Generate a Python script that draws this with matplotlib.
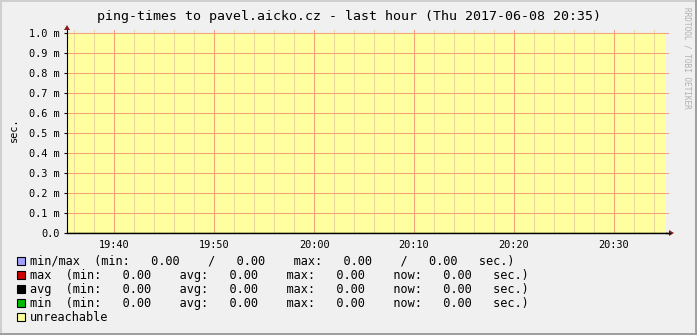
import matplotlib
matplotlib.use("Agg")
import matplotlib.pyplot as plt
from matplotlib.patches import Rectangle, Polygon
from matplotlib.lines import Line2D

# ---- data ----
title = "ping-times to pavel.aicko.cz - last hour (Thu 2017-06-08 20:35)"
# time axis in minutes after 19:00
t_start = 35.25
t_end = 95.25
times = [35.25, 45.0, 55.0, 65.0, 75.0, 85.0, 95.25]
unreachable = [1, 1, 1, 1, 1, 1, 1]
ping_min = [0, 0, 0, 0, 0, 0, 0]
ping_avg = [0, 0, 0, 0, 0, 0, 0]
ping_max = [0, 0, 0, 0, 0, 0, 0]
y_max = 1.0e-3
y_ticks = [0.0, 0.1e-3, 0.2e-3, 0.3e-3, 0.4e-3, 0.5e-3, 0.6e-3, 0.7e-3, 0.8e-3, 0.9e-3, 1.0e-3]
y_tick_labels = ["0.0", "0.1 m", "0.2 m", "0.3 m", "0.4 m", "0.5 m", "0.6 m", "0.7 m", "0.8 m", "0.9 m", "1.0 m"]
x_major = [40, 50, 60, 70, 80, 90]
x_major_labels = ["19:40", "19:50", "20:00", "20:10", "20:20", "20:30"]
x_minor = [36, 38, 42, 44, 46, 48, 52, 54, 56, 58, 62, 64, 66, 68, 72, 74, 76, 78, 82, 84, 86, 88, 92, 94]
legend_rows = [
    ("#A0A0FF", "min/max  (min:   0.00    /   0.00    max:   0.00    /   0.00   sec.)"),
    ("#CC0000", "max  (min:   0.00    avg:   0.00    max:   0.00    now:   0.00   sec.)"),
    ("#000000", "avg  (min:   0.00    avg:   0.00    max:   0.00    now:   0.00   sec.)"),
    ("#00BB00", "min  (min:   0.00    avg:   0.00    max:   0.00    now:   0.00   sec.)"),
    ("#FFFF99", "unreachable"),
]

W, H = 697, 335
BG = "#F0F0F0"
YELLOW = "#FFFFA0"
MAJOR = "#F2A478"
MINOR = "#E8D89C"
MONO = "DejaVu Sans Mono"

fig = plt.figure(figsize=(W / 100, H / 100), dpi=100, facecolor=BG)

def fx(px):
    return px / W

def fy(py):
    return 1 - py / H

# axes: plot area x 67..666, y 33..233, with 3px extra for grid overhang
ext = 3
left_px, right_px, top_px, bot_px = 67, 666, 33, 233
ax = fig.add_axes([fx(left_px), fy(bot_px), (right_px + ext - left_px) / W, (bot_px - (top_px - ext)) / H])
ax.set_facecolor("none")
px_per_min = (right_px - left_px) / (t_end - t_start)
ax.set_xlim(t_start, t_end + ext / px_per_min)
px_per_val = (bot_px - top_px) / y_max
ax.set_ylim(0, y_max + ext / px_per_val)

# unreachable area
ax.fill_between(times, 0, [u * y_max for u in unreachable], color=YELLOW, lw=0, zorder=0, step="post")

# grid
for xm in x_minor:
    ax.axvline(xm, color=MINOR, lw=0.75, zorder=1)
for xM in x_major:
    ax.axvline(xM, color=MAJOR, lw=0.75, zorder=2)
for yv in y_ticks[1:]:
    ax.axhline(yv, xmin=0, xmax=1, color=MAJOR, lw=0.75, zorder=2)

# data lines (all zero)
ax.plot(times, ping_max, color="#CC0000", lw=0.8, zorder=3)
ax.plot(times, ping_min, color="#00BB00", lw=0.8, zorder=3)
ax.plot(times, ping_avg, color="#000000", lw=0.8, zorder=3)

for s in ["top", "right"]:
    ax.spines[s].set_visible(False)
ax.spines["left"].set_color("#000000")
ax.spines["bottom"].set_color("#000000")
ax.spines["left"].set_linewidth(0.8)
ax.spines["bottom"].set_linewidth(1.0)

ax.set_yticks(y_ticks)
ax.set_yticklabels(y_tick_labels, fontfamily=MONO, fontsize=7.4, color="#000000")
ax.tick_params(axis="y", length=2.2, width=0.8, pad=3, colors="#000000")
ax.set_xticks(x_major)
ax.set_xticklabels(x_major_labels, fontfamily=MONO, fontsize=7.4)
ax.tick_params(axis="x", length=0, pad=5)

fig.text(fx(13.5), fy(130), "sec.", rotation=90, ha="center", va="center", fontfamily=MONO, fontsize=7.4)

# arrows
fig.patches.append(Polygon([[fx(64), fy(30)], [fx(70), fy(30)], [fx(67), fy(25)]], closed=True,
                           transform=fig.transFigure, facecolor="#8B1A1A", edgecolor="none"))
fig.patches.append(Polygon([[fx(669), fy(230)], [fx(669), fy(236)], [fx(674), fy(233)]], closed=True,
                           transform=fig.transFigure, facecolor="#8B1A1A", edgecolor="none"))
fig.lines.append(Line2D([fx(666), fx(670)], [fy(233), fy(233)], transform=fig.transFigure, color="#000000", lw=1.0))

# title
fig.text(fx(349), fy(16.5), title, ha="center", va="center", fontfamily=MONO, fontsize=9.5, color="#000000")

# watermark
fig.text(fx(687), fy(7), "RRDTOOL / TOBI OETIKER", rotation=-90, ha="center", va="top",
         fontfamily=MONO, fontsize=5.6, color="#B0B0B0")

# legend
row_y = [261, 275.3, 289.3, 303.3, 317.3]
for (col, txt), yy in zip(legend_rows, row_y):
    fig.patches.append(Rectangle((fx(16.5), fy(yy + 4)), 8 / W, 8 / H, transform=fig.transFigure,
                                 facecolor=col, edgecolor="#000000", lw=0.8))
    fig.text(fx(29.5), fy(yy), txt, ha="left", va="center", fontfamily=MONO, fontsize=8.55, color="#000000")

# frame border
fig.patches.append(Rectangle((0, 0), 2 / W, 1, transform=fig.transFigure, facecolor="#CFCFCF", edgecolor="none"))
fig.patches.append(Rectangle((0, 1 - 2 / H), 1, 2 / H, transform=fig.transFigure, facecolor="#CFCFCF", edgecolor="none"))
fig.patches.append(Rectangle((1 - 2 / W, 0), 2 / W, 1, transform=fig.transFigure, facecolor="#A0A0A0", edgecolor="none"))
fig.patches.append(Rectangle((0, 0), 1, 2 / H, transform=fig.transFigure, facecolor="#A0A0A0", edgecolor="none"))

fig.savefig("out.png", dpi=100, facecolor=BG)
